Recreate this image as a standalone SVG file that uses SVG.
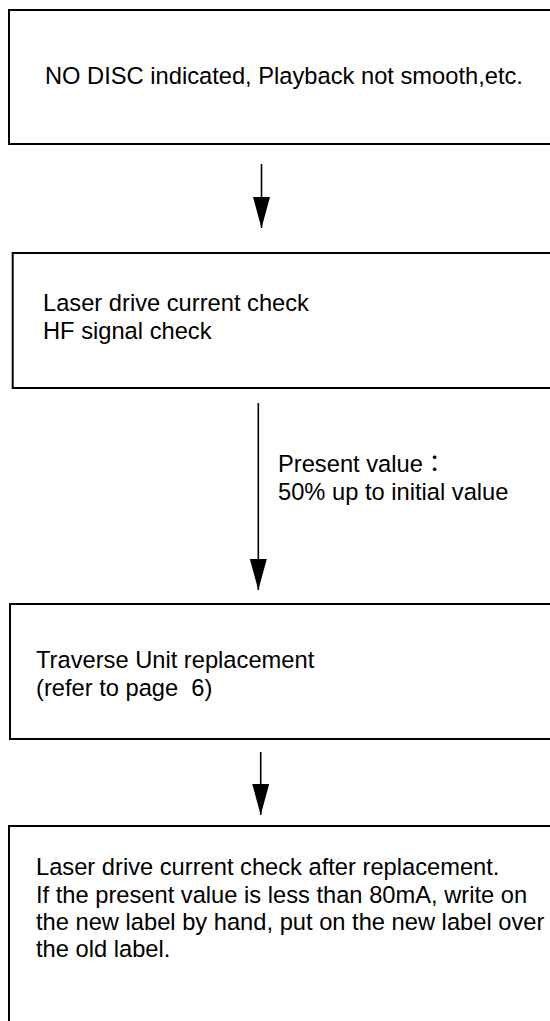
<svg xmlns="http://www.w3.org/2000/svg" width="550" height="1021" viewBox="0 0 550 1021">
<style>
.box{fill:#fff;stroke:#000;stroke-width:2}
.t{font-family:"Liberation Sans","Noto Sans CJK JP",Arial,sans-serif;font-size:23.7px;fill:#000}
.c{stroke:#000;stroke-width:1.6;fill:none;marker-end:url(#ah)}
</style>
<defs>
<marker id="ah" markerUnits="userSpaceOnUse" markerWidth="31" markerHeight="17" refX="31" refY="8.5" orient="auto" viewBox="0 0 31 17">
<path d="M0,0 L31,8.5 L0,17 z" fill="#000"/>
</marker>
</defs>
<rect width="550" height="1021" fill="#fff"/>
<g id="n1">
<rect class="box" x="9" y="10" width="570" height="134"/>
<text class="t" x="45" y="84">NO DISC indicated, Playback not smooth,etc.</text>
</g>
<g id="n2">
<rect class="box" x="12.7" y="253" width="570" height="135"/>
<text class="t" x="43" y="311">Laser drive current check</text>
<text class="t" x="43" y="339">HF signal check</text>
</g>
<g id="n3">
<rect class="box" x="10" y="604" width="570" height="135"/>
<text class="t" x="36" y="668">Traverse Unit replacement</text>
<text class="t" x="36" y="696" xml:space="preserve">(refer to page  6)</text>
</g>
<g id="n4">
<rect class="box" x="9" y="826" width="570" height="230"/>
<text class="t" x="36" y="875">Laser drive current check after replacement.</text>
<text class="t" x="36" y="902.5">If the present value is less than 80mA, write on</text>
<text class="t" x="36" y="930">the new label by hand, put on the new label over</text>
<text class="t" x="36" y="957">the old label.</text>
</g>
<g id="connectors">
<line class="c" x1="261.5" y1="164" x2="261.5" y2="228"/>
<line class="c" x1="258.3" y1="403" x2="258.3" y2="590"/>
<text class="t" x="278" y="472">Present value：</text>
<text class="t" x="278" y="500">50% up to initial value</text>
<line class="c" x1="260.7" y1="752" x2="260.7" y2="815"/>
</g>
</svg>
